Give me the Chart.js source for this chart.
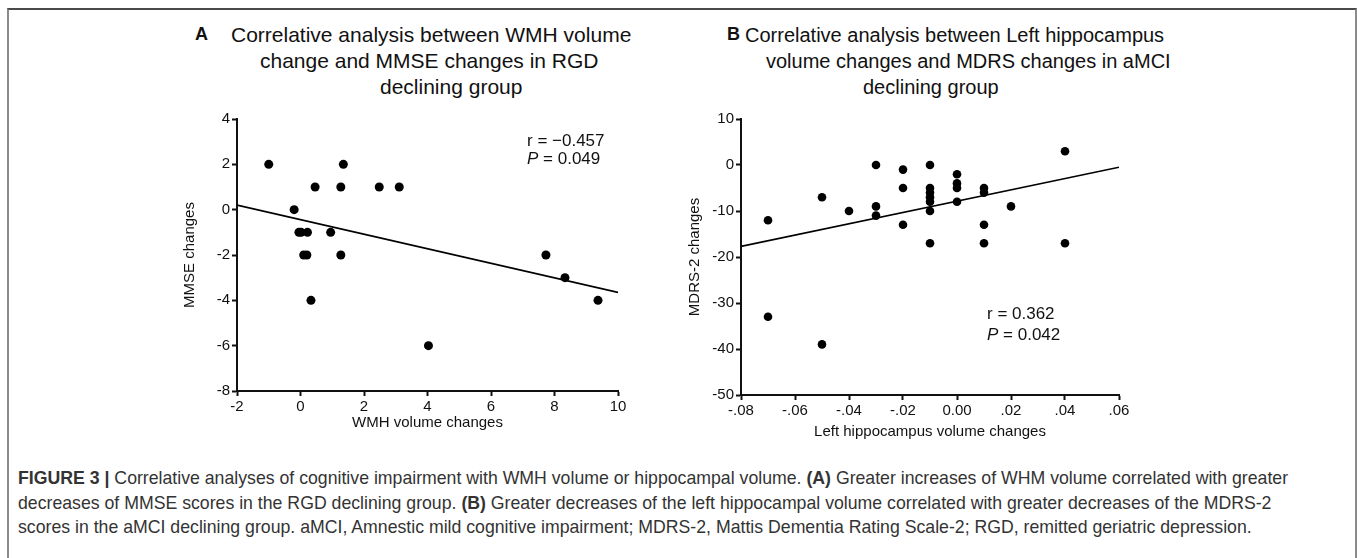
<!DOCTYPE html>
<html>
<head>
<meta charset="utf-8">
<script src="https://cdn.jsdelivr.net/npm/chart.js@4.4.1/dist/chart.umd.min.js"></script>
<style>
html, body { margin: 0; padding: 0; background: #fff; }
body { width: 1357px; height: 558px; position: relative; overflow: hidden; font-family: "Liberation Sans", Arial, sans-serif; }
#frame { position: absolute; left: 7px; top: 8px; width: 1346px; height: 600px; border-top: 2px solid #4a4a4a; border-left: 2px solid #8a8a8a; border-right: 2px solid #8a8a8a; }
.tl { position: absolute; font-size: 21px; line-height: 26px; color: #111; white-space: nowrap; }
.letter { position: absolute; font-size: 18px; font-weight: bold; color: #111; }
.stat { position: absolute; font-size: 17px; line-height: 20px; color: #111; white-space: nowrap; }
canvas { position: absolute; }
#caption { position: absolute; left: 18px; top: 466px; font-size: 17.7px; line-height: 24.5px; color: #333; white-space: nowrap; }
</style>
</head>
<body>
<div id="frame"></div>

<div class="letter" style="left:195px; top:24px;">A</div>
<div class="tl" style="left:231px; top:22px;">Correlative analysis between WMH volume</div>
<div class="tl" style="left:260px; top:48px;">change and MMSE changes in RGD</div>
<div class="tl" style="left:380px; top:74px;">declining group</div>

<div class="letter" style="left:727px; top:24px;">B</div>
<div class="tl" style="left:745px; top:22px; font-size:20px;">Correlative analysis between Left hippocampus</div>
<div class="tl" style="left:766px; top:48px; font-size:20px;">volume changes and MDRS changes in aMCI</div>
<div class="tl" style="left:863px; top:74px; font-size:20px;">declining group</div>

<canvas id="chartA" width="460" height="340" style="left:170px; top:108px;"></canvas>
<canvas id="chartB" width="480" height="342" style="left:660px; top:108px;"></canvas>

<div class="stat" style="left:527px; top:131px;">r = &minus;0.457</div>
<div class="stat" style="left:527px; top:149px;"><i>P</i> = 0.049</div>
<div class="stat" style="left:987px; top:304px;">r = 0.362</div>
<div class="stat" style="left:987px; top:325px;"><i>P</i> = 0.042</div>

<div id="caption">
<b>FIGURE 3 |</b> Correlative analyses of cognitive impairment with WMH volume or hippocampal volume. <b>(A)</b> Greater increases of WHM volume correlated with greater<br>
decreases of MMSE scores in the RGD declining group. <b>(B)</b> Greater decreases of the left hippocampal volume correlated with greater decreases of the MDRS-2<br>
scores in the aMCI declining group. aMCI, Amnestic mild cognitive impairment; MDRS-2, Mattis Dementia Rating Scale-2; RGD, remitted geriatric depression.
</div>

<script>
// panel A: WMH volume change vs MMSE change
var aWmh  = [-1.0, -0.2, -0.05, 0.02, 0.22, 0.1, 0.2, 0.33, 0.46, 1.27, 2.48, 3.11, 1.35, 0.95, 1.27, 4.03, 7.73, 8.33, 9.37];
var aMmse = [2, 0, -1, -1, -1, -2, -2, -4, 1, 1, 1, 1, 2, -1, -2, -6, -2, -3, -4];
var aFitX = [-2, 10];
var aFitY = [0.2, -3.65];
var aXTicks = ['-2', '0', '2', '4', '6', '8', '10'];
var aYTicks = ['-8', '-6', '-4', '-2', '0', '2', '4'];

// panel B: left hippocampus volume change vs MDRS-2 change
var bHip  = [-0.07, -0.05, -0.04, -0.03, -0.03, -0.03, -0.02, -0.02, -0.02, -0.01, -0.01, -0.01, -0.01, -0.01, -0.01, -0.01,
             0.00, 0.00, 0.00, 0.00, 0.01, 0.01, 0.01, 0.01, 0.02, 0.04, 0.04, -0.07, -0.05];
var bMdrs = [-12, -7, -10, 0, -9, -11, -1, -5, -13, 0, -5, -6, -7, -8, -10, -17,
             -2, -4, -5, -8, -5, -6, -13, -17, -9, 3, -17, -33, -39];
var bFitX = [-0.08, 0.06];
var bFitY = [-17.7, -0.5];
var bXTicks = ['-.08', '-.06', '-.04', '-.02', '0.00', '.02', '.04', '.06'];
var bYTicks = ['-50', '-40', '-30', '-20', '-10', '0', '10'];

function pairs(xs, ys) {
    var out = [];
    for (var i = 0; i < xs.length; i++) out.push({x: xs[i], y: ys[i]});
    return out;
}

function axis(min, max, step, labels, title, fixed, tpad) {
    return {
        type: 'linear',
        min: min,
        max: max,
        ticks: {
            stepSize: step,
            color: '#111',
            padding: 2,
            font: {family: 'Liberation Sans', size: 15},
            callback: function (v, i) { return labels[i]; }
        },
        grid: {display: true, drawOnChartArea: false, drawTicks: true, tickLength: 5, tickWidth: 2, color: '#111'},
        border: {display: true, color: '#111', width: 2},
        title: {display: true, text: title, color: '#111', padding: tpad, font: {family: 'Liberation Sans', size: 15}},
        afterFit: function (s) {
            if (s.isHorizontal()) s.height = fixed; else s.width = fixed;
        }
    };
}

function scatter(id, xs, ys, fitX, fitY, xAxis, yAxis, pad, radius) {
    var ctx = document.getElementById(id).getContext('2d');
    return new Chart(ctx, {
        type: 'scatter',
        data: {
            datasets: [
                {
                    data: pairs(xs, ys),
                    pointRadius: radius,
                    pointBackgroundColor: '#000',
                    pointBorderWidth: 0
                },
                {
                    type: 'line',
                    data: pairs(fitX, fitY),
                    borderColor: '#000',
                    borderWidth: 1.6,
                    pointRadius: 0,
                    fill: false
                }
            ]
        },
        options: {
            responsive: false,
            animation: false,
            layout: {padding: pad},
            plugins: {legend: {display: false}, tooltip: {enabled: false}},
            scales: {x: xAxis, y: yAxis}
        }
    });
}

scatter('chartA', aWmh, aMmse, aFitX, aFitY,
    axis(-2, 10, 2, aXTicks, 'WMH volume changes', 57, {top: 0, bottom: 16}),
    axis(-8, 4, 2, aYTicks, 'MMSE changes', 67, {top: 11, bottom: 0}),
    {top: 10, right: 12, left: 0, bottom: 0}, 4.5);

scatter('chartB', bHip, bMdrs, bFitX, bFitY,
    axis(-0.08, 0.06, 0.02, bXTicks, 'Left hippocampus volume changes', 55, {top: 0, bottom: 9}),
    axis(-50, 10, 10, bYTicks, 'MDRS-2 changes', 81, {top: 26, bottom: 0}),
    {top: 11, right: 21, left: 0, bottom: 0}, 4.3);
</script>
</body>
</html>
